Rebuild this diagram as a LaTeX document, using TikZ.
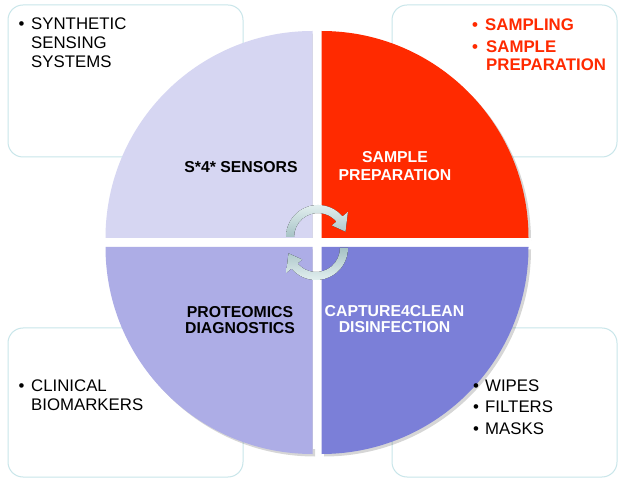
\documentclass[tikz,border=0pt]{standalone}
\usepackage{fontspec}
\setmainfont{Liberation Sans}
\usetikzlibrary{calc}
\definecolor{qa}{HTML}{D6D6F2}
\definecolor{qb}{HTML}{FF2A00}
\definecolor{qc}{HTML}{ADADE6}
\definecolor{qd}{HTML}{7B7FD8}
\definecolor{boxcol}{HTML}{C9E6EA}
\definecolor{redtxt}{HTML}{FF2A00}
\definecolor{arrlight}{HTML}{E2EFEF}
\definecolor{arrdark}{HTML}{A6C2C5}
\begin{document}
\begin{tikzpicture}[x=1pt,y=1pt,
  panel/.style={draw=boxcol, line width=1pt, rounded corners=15pt, fill=white},
  body/.style={font=\fontsize{16.8}{19.5}\selectfont, inner sep=0pt, anchor=base west},
  bodyred/.style={body, font=\fontsize{16.8}{19.5}\selectfont\bfseries, text=redtxt},
  qlabel/.style={font=\fontsize{15.8}{17}\selectfont\bfseries, inner sep=0pt, anchor=base},
  shade/.style={fill=black, fill opacity=0.16},
  cyc/.style={top color=arrlight, bottom color=arrdark}]
\useasboundingbox (0,0) rectangle (618,479);
\fill[white] (0,0) rectangle (618,479);

% side panels
\draw[panel] (8,322) rectangle (243,474);
\draw[panel] (392,322) rectangle (617,474);
\draw[panel] (8,2) rectangle (243,151);
\draw[panel] (392,2) rectangle (617,151);

% shadow of the disc
\foreach \cx/\cy/\a in {312.5/241/90, 321.5/241/0, 312.5/232/180, 321.5/232/270}{
  \fill[shade] (\cx+2.5,\cy-2.5) -- ++(\a:207) arc[start angle=\a, delta angle=90, radius=207] -- cycle;
}
% keep the gaps between the quarters white
\fill[white] (312.5,30) rectangle (321.5,450);
\fill[white] (103,232) rectangle (531,241);

% quadrants
\fill[qa] (312.5,241) -- ++(90:207) arc[start angle=90, end angle=180, radius=207] -- cycle;
\fill[qb] (321.5,241) -- ++(0:207) arc[start angle=0, end angle=90, radius=207] -- cycle;
\fill[qc] (312.5,232) -- ++(180:207) arc[start angle=180, end angle=270, radius=207] -- cycle;
\fill[qd] (321.5,232) -- ++(270:207) arc[start angle=270, end angle=360, radius=207] -- cycle;

% cycle arrows
\begin{scope}[shift={(318,242)}]
  \fill[cyc] (180:32) arc[start angle=180, end angle=40, radius=32]
    -- (40:39) -- (11:28) -- (40:18) -- (40:24)
    arc[start angle=40, end angle=180, radius=24] -- cycle;
\end{scope}
\begin{scope}[shift={(316,231)}, rotate=180]
  \fill[top color=arrdark, bottom color=arrlight] (180:32) arc[start angle=180, end angle=40, radius=32]
    -- (40:39) -- (11:28) -- (40:18) -- (40:24)
    arc[start angle=40, end angle=180, radius=24] -- cycle;
\end{scope}

% quadrant labels
\node[qlabel] (s4) at (241,306.3) {S*4* SENSORS};
\node[qlabel, text=white] (sp1) at (395,316) {SAMPLE};
\node[qlabel, text=white] (sp2) at (395,298) {PREPARATION};
\node[qlabel] (pd1) at (240,161) {PROTEOMICS};
\node[qlabel] (pd2) at (240,145) {DIAGNOSTICS};
\node[qlabel, text=white] (cc1) at (394.5,162.7) {CAPTURE4CLEAN};
\node[qlabel, text=white] (cc2) at (394.5,146) {DISINFECTION};

% top-left panel text
\node[body] (b1) at (18.5,449) {•};
\node[body] (t1a) at (31,449) {SYNTHETIC};
\node[body] (t1b) at (31,430.5) {SENSING};
\node[body] (t1c) at (31,411.5) {SYSTEMS};

% top-right panel text
\node[bodyred] (b2) at (472,448) {•};
\node[bodyred] (t2a) at (485,448) {SAMPLING};
\node[bodyred] (b3) at (472,426.7) {•};
\node[bodyred] (t2b) at (486,426.7) {SAMPLE};
\node[bodyred] (t2c) at (486,408) {PREPARATION};

% bottom-left panel text
\node[body] (b4) at (18.5,87.3) {•};
\node[body] (t3a) at (31,87.3) {CLINICAL};
\node[body] (t3b) at (31,68.3) {BIOMARKERS};

% bottom-right panel text
\node[body] (b5) at (473,87.3) {•};
\node[body] (t4a) at (485,87.3) {WIPES};
\node[body] (b6) at (473,66.3) {•};
\node[body] (t4b) at (485,66.3) {FILTERS};
\node[body] (b7) at (473,44) {•};
\node[body] (t4c) at (485,44) {MASKS};
\end{tikzpicture}
\end{document}
